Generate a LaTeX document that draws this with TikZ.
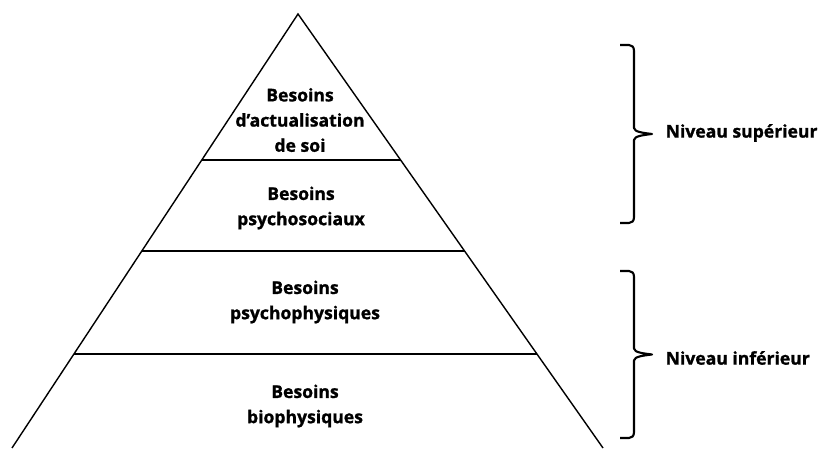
\documentclass[tikz,border=0pt]{standalone}
\usepackage{fontspec}
\setmainfont{Open Sans}[BoldFeatures={FakeBold=1.2}]
\usepackage{tikz}
\usetikzlibrary{calc}

% right brace from #1 (top) to #2 (bottom), tip pointing right
\newcommand{\sidebrace}[2]{%
	\draw[Brace] (#1) -- ($(#1)+(9,0)$)
		.. controls ($(#1)+(12,0)$) and ($(#1)+(14,-2)$) .. ($(#1)+(14,-6)$)
		-- ($($(#1)!0.5!(#2)$)+(14,6)$)
		.. controls ($($(#1)!0.5!(#2)$)+(14,2)$) and ($($(#1)!0.5!(#2)$)+(24,1)$) .. ($($(#1)!0.5!(#2)$)+(32,0)$)
		.. controls ($($(#1)!0.5!(#2)$)+(24,-1)$) and ($($(#1)!0.5!(#2)$)+(14,-2)$) .. ($($(#1)!0.5!(#2)$)+(14,-6)$)
		-- ($(#2)+(14,6)$)
		.. controls ($(#2)+(14,2)$) and ($(#2)+(12,0)$) .. ($(#2)+(9,0)$)
		-- (#2);}

\begin{document}
\begin{tikzpicture}[
		%Global config
		x=0.3mm,
		y=0.3mm,
		line width=1.2pt,
		color = black,
		%Styles
		Level/.style={
			font=\fontsize{15}{21.5}\selectfont\bfseries,
			align=center,
			inner sep=0pt,
		},
		Side/.style={
			font=\fontsize{15}{21.5}\selectfont\bfseries,
			anchor=west,
			inner sep=0pt,
		},
		Brace/.style={
			line width=1.8pt,
			line join=round,
		},
		main/.style={
			line width=1.2pt,
			color=black
			}
		]

		\useasboundingbox (0,0) rectangle (825,449);

		% pyramid
		\coordinate (apex) at (298,435);
		\coordinate (bl) at (12,1);
		\coordinate (br) at (603,1);
		\draw[main] (bl) -- (apex) -- (br);
		\foreach \t/\n in {0.3364/a, 0.5461/b, 0.7834/c}
			\draw[main] ($(apex)!\t!(bl)$) coordinate (l\n) -- ($(apex)!\t!(br)$) coordinate (r\n);

		\node[Level] (soi) at (300,329) {Besoins\\d'actualisation\\de soi};
		\node[Level] (social) at (301,241) {Besoins\\psychosociaux};
		\node[Level] (psycho) at (305,147) {Besoins\\psychophysiques};
		\node[Level] (bio) at (305,43) {Besoins\\biophysiques};

		% braces
		\coordinate (supA) at (620,404);
		\coordinate (supB) at (620,226);
		\coordinate (infA) at (620,178);
		\coordinate (infB) at (620,11);
		\sidebrace{supA}{supB}
		\sidebrace{infA}{infB}
		\node[Side] (sup) at (665,316) {Niveau supérieur};
		\node[Side] (inf) at (665,91) {Niveau inférieur};
	\end{tikzpicture}
\end{document}
